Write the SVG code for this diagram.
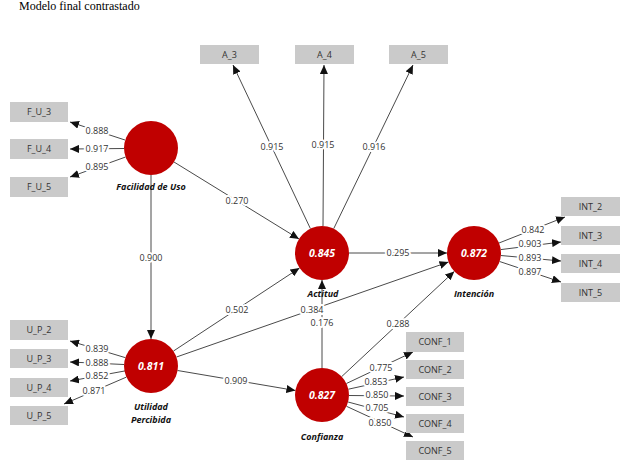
<svg xmlns="http://www.w3.org/2000/svg" width="624" height="464" viewBox="0 0 624 464">
<defs>
<style>
.title{font-family:"Liberation Serif",serif;font-size:12px;fill:#000}
.box rect{fill:#cacaca}
.box text{font-family:"Open Sans","Liberation Sans",sans-serif;font-size:9px;fill:#333;text-anchor:middle}
.lv circle{fill:#c00000}
.lv .val{font-family:"Open Sans","Liberation Sans",sans-serif;font-size:10.5px;font-weight:bold;font-style:italic;fill:#fff;text-anchor:middle}
.lv .name{font-family:"Open Sans","Liberation Sans",sans-serif;font-size:9px;font-weight:bold;font-style:italic;fill:#111;text-anchor:middle}
.edges line{stroke:#4a4a4a;stroke-width:1;marker-end:url(#ah)}
.edges text{font-family:"Open Sans","Liberation Sans",sans-serif;font-size:9px;fill:#333;text-anchor:middle;paint-order:stroke;stroke:#fff;stroke-width:4px;stroke-linejoin:round}
</style>
<marker id="ah" markerUnits="userSpaceOnUse" markerWidth="9" markerHeight="8" viewBox="0 0 9 8" refX="9" refY="4" orient="auto">
<path d="M0,0 L9,4 L0,8 z" fill="#111"/>
</marker>
</defs>
<rect width="624" height="464" fill="#fff"/>
<text class="title" x="19" y="10">Modelo final contrastado</text>

<g id="connectors" class="edges">
<line x1="174" y1="162" x2="299" y2="239"/>
<line x1="151" y1="175" x2="151" y2="339"/>
<line x1="173.5" y1="351" x2="299.5" y2="268"/>
<line x1="176.5" y1="357" x2="448.5" y2="262"/>
<line x1="177.6" y1="370.5" x2="295.4" y2="390.5"/>
<line x1="322" y1="368" x2="322" y2="280"/>
<line x1="341.7" y1="376.6" x2="454.3" y2="271.4"/>
<line x1="349" y1="253" x2="447" y2="253"/>
<line x1="125" y1="140" x2="70" y2="122"/>
<line x1="124" y1="148.5" x2="70" y2="149"/>
<line x1="125.6" y1="157" x2="70" y2="177"/>
<line x1="125.5" y1="357.7" x2="70" y2="341"/>
<line x1="124" y1="364.5" x2="70" y2="362"/>
<line x1="125.2" y1="370.9" x2="70" y2="381"/>
<line x1="126.2" y1="377.2" x2="64" y2="404"/>
<line x1="310.4" y1="228.6" x2="233" y2="65"/>
<line x1="323" y1="226" x2="324" y2="65"/>
<line x1="333.7" y1="228.7" x2="413" y2="65"/>
<line x1="499" y1="243" x2="565" y2="217"/>
<line x1="500.8" y1="249.6" x2="561" y2="242"/>
<line x1="500.9" y1="255.5" x2="561" y2="261"/>
<line x1="499.6" y1="261.5" x2="561" y2="282"/>
<line x1="346.4" y1="383.5" x2="413" y2="352"/>
<line x1="348.4" y1="389.2" x2="404" y2="377"/>
<line x1="349" y1="395.5" x2="404" y2="396"/>
<line x1="348.1" y1="402" x2="404" y2="417"/>
<line x1="346.5" y1="406.3" x2="413" y2="437"/>

<text x="237" y="204">0.270</text>
<text x="151" y="261">0.900</text>
<text x="237" y="313">0.502</text>
<text x="312" y="313">0.384</text>
<text x="322" y="326">0.176</text>
<text x="236" y="384">0.909</text>
<text x="398" y="256">0.295</text>
<text x="398" y="327">0.288</text>

<text x="97" y="134">0.888</text>
<text x="97" y="152">0.917</text>
<text x="97" y="170">0.895</text>

<text x="97" y="352">0.839</text>
<text x="97" y="366">0.888</text>
<text x="97" y="379">0.852</text>
<text x="94" y="394">0.871</text>

<text x="272" y="150">0.915</text>
<text x="323" y="148">0.915</text>
<text x="374" y="150">0.916</text>

<text x="533" y="233">0.842</text>
<text x="530" y="247">0.903</text>
<text x="530" y="261">0.893</text>
<text x="530" y="275">0.897</text>

<text x="381" y="371">0.775</text>
<text x="376" y="385">0.853</text>
<text x="377" y="398">0.850</text>
<text x="377" y="411">0.705</text>
<text x="380" y="426">0.850</text>
</g>

<g id="FU" class="lv"><circle cx="151" cy="148" r="27"/><text class="name" x="151" y="190">Facilidad de Uso</text></g>
<g id="UP" class="lv"><circle cx="151" cy="366" r="27"/><text class="val" x="151" y="370">0.811</text><text class="name" x="151" y="410">Utilidad</text><text class="name" x="151" y="423">Percibida</text></g>
<g id="ACT" class="lv"><circle cx="322" cy="253" r="27"/><text class="val" x="322" y="257">0.845</text><text class="name" x="323" y="297">Actitud</text></g>
<g id="INT" class="lv"><circle cx="474" cy="253" r="27"/><text class="val" x="474" y="257">0.872</text><text class="name" x="474" y="297">Intención</text></g>
<g id="CONF" class="lv"><circle cx="322" cy="395" r="27"/><text class="val" x="322" y="399">0.827</text><text class="name" x="322" y="440">Confianza</text></g>

<g id="F_U_3" class="box"><rect x="10" y="102" width="58" height="20"/><text x="39" y="115">F_U_3</text></g>
<g id="F_U_4" class="box"><rect x="10" y="139" width="58" height="20"/><text x="39" y="152">F_U_4</text></g>
<g id="F_U_5" class="box"><rect x="10" y="177" width="58" height="20"/><text x="39" y="190">F_U_5</text></g>

<g id="U_P_2" class="box"><rect x="10" y="320" width="58" height="20"/><text x="39" y="333">U_P_2</text></g>
<g id="U_P_3" class="box"><rect x="10" y="349" width="58" height="19"/><text x="39" y="361.5">U_P_3</text></g>
<g id="U_P_4" class="box"><rect x="10" y="378" width="58" height="19"/><text x="39" y="390.5">U_P_4</text></g>
<g id="U_P_5" class="box"><rect x="10" y="406" width="58" height="19"/><text x="39" y="418.5">U_P_5</text></g>

<g id="A_3" class="box"><rect x="200" y="45" width="59" height="19"/><text x="229.5" y="57.5">A_3</text></g>
<g id="A_4" class="box"><rect x="295" y="45" width="59" height="19"/><text x="324.5" y="57.5">A_4</text></g>
<g id="A_5" class="box"><rect x="389" y="45" width="59" height="19"/><text x="418.5" y="57.5">A_5</text></g>

<g id="INT_2" class="box"><rect x="561" y="197" width="59" height="19"/><text x="590.5" y="209.5">INT_2</text></g>
<g id="INT_3" class="box"><rect x="561" y="226" width="59" height="19"/><text x="590.5" y="238.5">INT_3</text></g>
<g id="INT_4" class="box"><rect x="561" y="254" width="59" height="19"/><text x="590.5" y="266.5">INT_4</text></g>
<g id="INT_5" class="box"><rect x="561" y="283" width="59" height="19"/><text x="590.5" y="295.5">INT_5</text></g>

<g id="CONF_1" class="box"><rect x="406" y="332" width="58" height="20"/><text x="435" y="345">CONF_1</text></g>
<g id="CONF_2" class="box"><rect x="406" y="360" width="58" height="19"/><text x="435" y="372.5">CONF_2</text></g>
<g id="CONF_3" class="box"><rect x="406" y="387" width="58" height="19"/><text x="435" y="399.5">CONF_3</text></g>
<g id="CONF_4" class="box"><rect x="406" y="414" width="58" height="19"/><text x="435" y="426.5">CONF_4</text></g>
<g id="CONF_5" class="box"><rect x="406" y="441" width="58" height="19"/><text x="435" y="453.5">CONF_5</text></g>
</svg>
